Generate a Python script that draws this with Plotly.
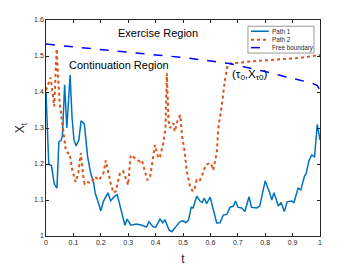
import plotly.graph_objects as go

# Path 1 (sample path that stays in the continuation region)
path1_t = [0, 0.01, 0.02, 0.03, 0.04, 0.047, 0.055, 0.06, 0.068, 0.076, 0.088,
           0.095, 0.102, 0.11, 0.12, 0.128, 0.135, 0.14, 0.152, 0.163, 0.173,
           0.18, 0.19, 0.2, 0.21, 0.226, 0.236, 0.25, 0.26, 0.288, 0.296, 0.31,
           0.33, 0.35, 0.367, 0.376, 0.39, 0.4, 0.416, 0.426, 0.434, 0.449,
           0.459, 0.477, 0.489, 0.5, 0.51, 0.52, 0.53, 0.537, 0.55, 0.562, 0.57,
           0.578, 0.586, 0.599, 0.623, 0.635, 0.647, 0.66, 0.672, 0.684, 0.692,
           0.7, 0.714, 0.726, 0.741, 0.75, 0.77, 0.78, 0.8, 0.817, 0.824, 0.832,
           0.848, 0.858, 0.87, 0.88, 0.897, 0.905, 0.92, 0.93, 0.943, 0.95,
           0.96, 0.97, 0.98, 0.99, 1.0]
path1_x = [1.40, 1.20, 1.195, 1.145, 1.133, 1.262, 1.265, 1.28, 1.42, 1.30, 1.447,
           1.33, 1.267, 1.25, 1.267, 1.32, 1.315, 1.31, 1.22, 1.175, 1.15,
           1.118, 1.095, 1.07, 1.097, 1.12, 1.098, 1.11, 1.115, 1.03, 1.047, 1.03,
           1.033, 1.03, 1.025, 1.04, 1.026, 1.024, 1.047, 1.037, 1.045, 1.017,
           1.012, 1.028, 1.04, 1.042, 1.037, 1.044, 1.08, 1.078, 1.111, 1.097, 1.093,
           1.105, 1.09, 1.108, 1.036, 1.037, 1.058, 1.06, 1.08, 1.083, 1.097,
           1.08, 1.078, 1.068, 1.109, 1.08, 1.078, 1.083, 1.153, 1.119, 1.1, 1.12,
           1.083, 1.093, 1.068, 1.095, 1.097, 1.093, 1.133, 1.128, 1.165, 1.175,
           1.21, 1.225, 1.22, 1.31, 1.267]

# Path 2 (sample path that hits the free boundary)
path2_t = [0, 0.017, 0.03, 0.039, 0.045, 0.05, 0.058, 0.066, 0.072, 0.08, 0.086,
           0.096, 0.108, 0.118, 0.127, 0.136, 0.141, 0.15, 0.163, 0.178, 0.193,
           0.21, 0.218, 0.236, 0.246, 0.255, 0.27, 0.282, 0.3, 0.309, 0.325,
           0.343, 0.35, 0.37, 0.38, 0.398, 0.41, 0.416, 0.428, 0.436, 0.441,
           0.447, 0.453, 0.465, 0.47, 0.48, 0.49, 0.497, 0.507, 0.513, 0.526,
           0.534, 0.54, 0.55, 0.56, 0.568, 0.583, 0.59, 0.602, 0.61, 0.623,
           0.629, 0.641, 0.653, 0.663, 0.673, 0.75, 0.85, 0.93, 1.0]
path2_x = [1.405, 1.44, 1.36, 1.52, 1.43, 1.37, 1.32, 1.28, 1.24, 1.23, 1.23,
           1.183, 1.15, 1.175, 1.23, 1.165, 1.145, 1.15, 1.147, 1.165, 1.155,
           1.175, 1.21, 1.147, 1.12, 1.125, 1.175, 1.18, 1.142, 1.225, 1.217,
           1.206, 1.21, 1.155, 1.165, 1.253, 1.216, 1.22, 1.257, 1.30, 1.452,
           1.32, 1.30, 1.313, 1.29, 1.32, 1.336, 1.276, 1.23, 1.183, 1.137,
           1.126, 1.125, 1.155, 1.152, 1.165, 1.197, 1.2, 1.202, 1.183, 1.23,
           1.30, 1.36, 1.433, 1.475, 1.479, 1.485, 1.49, 1.495, 1.503]

# Free boundary
bound_t = [0, 0.1, 0.2, 0.3, 0.4, 0.5, 0.6, 0.67, 0.75, 0.8, 0.87, 0.93, 0.97, 0.99, 1.0]
bound_x = [1.533, 1.525, 1.517, 1.51, 1.503, 1.496, 1.487, 1.479, 1.465, 1.457,
           1.443, 1.433, 1.425, 1.418, 1.405]

x_ticks = [0, 0.1, 0.2, 0.3, 0.4, 0.5, 0.6, 0.7, 0.8, 0.9, 1]
y_ticks = [1, 1.1, 1.2, 1.3, 1.4, 1.5, 1.6]

FONT = 'Liberation Sans, Arial, sans-serif'
AXIS_COLOR = '#262626'

series = [
    ('Path 1', path1_t, path1_x, dict(color='#0072BD', width=1.5)),
    ('Path 2', path2_t, path2_x, dict(color='#D95319', width=2, dash='dot')),
    ('Free boundary', bound_t, bound_x, dict(color='#0000FF', width=1.5, dash='dash')),
]

fig = go.Figure()
for name, xs, ys, line in series:
    fig.add_trace(go.Scatter(x=xs, y=ys, mode='lines', name=name, line=line,
                             showlegend=False))

# region labels and stopping point
fig.add_annotation(x=0.41, y=1.564, text='Exercise Region', showarrow=False,
                   font=dict(size=11, color='black'))
fig.add_annotation(x=0.266, y=1.475, text='Continuation Region', showarrow=False,
                   font=dict(size=11, color='black'))
fig.add_annotation(x=0.672, y=1.447, xanchor='left',
                   text='(τ<sub>0</sub>,X<sub>τ0</sub>)', showarrow=False,
                   font=dict(size=11.5, color='black'))

# compact MATLAB-style legend box (plotly's own legend rows are too tall here)
fig.add_shape(type='rect', xref='paper', yref='paper',
              x0=0.737, x1=0.978, y0=0.847, y1=0.971,
              line=dict(color='#7f7f7f', width=0.8), fillcolor='white', layer='above')
row_y = [0.948, 0.909, 0.872]
for (name, _, _, line), ry in zip(series, row_y):
    fig.add_shape(type='line', xref='paper', yref='paper',
                  x0=0.748, x1=0.813, y0=ry, y1=ry, line=line, layer='above')
    fig.add_annotation(x=0.819, y=ry, xref='paper', yref='paper',
                       xanchor='left', yanchor='middle',
                       text=name, showarrow=False,
                       font=dict(size=6.3, color=AXIS_COLOR))

axis_common = dict(
    showgrid=False, zeroline=False, showline=True, mirror='ticks',
    linecolor=AXIS_COLOR, linewidth=0.6, ticks='inside', ticklen=3,
    tickcolor=AXIS_COLOR, tickwidth=0.6,
    tickfont=dict(size=7, color=AXIS_COLOR), automargin=False,
)

fig.update_xaxes(range=[0, 1], tickvals=x_ticks, ticktext=[f'{v:g}' for v in x_ticks],
                 title=dict(text='t', font=dict(size=12, color=AXIS_COLOR), standoff=15),
                 **axis_common)
fig.update_yaxes(range=[1, 1.6], tickvals=y_ticks, ticktext=[f'{v:g}' for v in y_ticks],
                 title=dict(text='X<sub>t</sub>', font=dict(size=12, color=AXIS_COLOR), standoff=6),
                 **axis_common)

# the page's body adds an 8px offset, so the figure is drawn 8px smaller
fig.update_layout(
    width=346, height=258,
    margin=dict(l=38, r=34, t=12, b=30),
    plot_bgcolor='white', paper_bgcolor='white',
    font=dict(family=FONT),
    showlegend=False,
)

fig.write_html("out.html")
